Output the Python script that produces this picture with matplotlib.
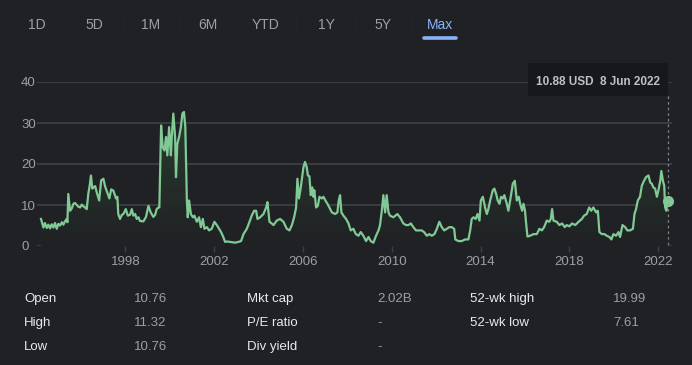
import numpy as np
import matplotlib.pyplot as plt
from matplotlib.colors import LinearSegmentedColormap

plt.rcParams['font.family'] = ['Liberation Sans', 'DejaVu Sans']

# price history (decimal year, USD)
years = [
    1994.20, 1994.31, 1994.38, 1994.46, 1994.53, 1994.61, 1994.68, 1994.76, 1994.83, 1994.91,
    1994.98, 1995.06, 1995.14, 1995.21, 1995.28, 1995.36, 1995.39, 1995.43, 1995.51, 1995.59,
    1995.66, 1995.73, 1995.81, 1995.88, 1995.96, 1996.04, 1996.11, 1996.18, 1996.26, 1996.33,
    1996.40, 1996.45, 1996.51, 1996.56, 1996.64, 1996.71, 1996.82, 1996.91, 1997.01, 1997.09,
    1997.19, 1997.28, 1997.36, 1997.46, 1997.58, 1997.64, 1997.68, 1997.76, 1997.84, 1997.91,
    1998.02, 1998.11, 1998.21, 1998.29, 1998.36, 1998.44, 1998.51, 1998.59, 1998.66, 1998.81,
    1998.93, 1999.04, 1999.14, 1999.26, 1999.34, 1999.41, 1999.49, 1999.53, 1999.61, 1999.68,
    1999.76, 1999.83, 1999.89, 1999.97, 2000.05, 2000.09, 2000.16, 2000.24, 2000.28, 2000.34,
    2000.42, 2000.50, 2000.57, 2000.64, 2000.70, 2000.77, 2000.81, 2000.87, 2000.95, 2001.04,
    2001.11, 2001.22, 2001.32, 2001.40, 2001.49, 2001.56, 2001.67, 2001.77, 2001.89, 2002.01,
    2002.12, 2002.22, 2002.31, 2002.41, 2002.49, 2002.59, 2002.72, 2002.84, 2002.94, 2003.09,
    2003.21, 2003.32, 2003.47, 2003.59, 2003.69, 2003.80, 2003.89, 2003.95, 2004.07, 2004.22,
    2004.34, 2004.40, 2004.49, 2004.59, 2004.67, 2004.82, 2004.97, 2005.12, 2005.27, 2005.39,
    2005.50, 2005.60, 2005.69, 2005.75, 2005.82, 2005.90, 2005.97, 2006.02, 2006.09, 2006.17,
    2006.22, 2006.29, 2006.35, 2006.42, 2006.47, 2006.51, 2006.59, 2006.67, 2006.74, 2006.85,
    2006.92, 2007.01, 2007.10, 2007.19, 2007.30, 2007.45, 2007.55, 2007.61, 2007.67, 2007.73,
    2007.82, 2007.94, 2008.05, 2008.15, 2008.27, 2008.38, 2008.50, 2008.60, 2008.72, 2008.84,
    2008.95, 2009.05, 2009.17, 2009.29, 2009.40, 2009.47, 2009.55, 2009.62, 2009.70, 2009.77,
    2009.85, 2009.92, 2010.07, 2010.25, 2010.37, 2010.52, 2010.64, 2010.75, 2010.86, 2010.97,
    2011.09, 2011.24, 2011.35, 2011.45, 2011.58, 2011.69, 2011.80, 2011.92, 2012.03, 2012.14,
    2012.25, 2012.36, 2012.48, 2012.59, 2012.70, 2012.81, 2012.86, 2013.00, 2013.15, 2013.30,
    2013.45, 2013.53, 2013.60, 2013.68, 2013.78, 2013.86, 2013.95, 2014.01, 2014.10, 2014.20,
    2014.28, 2014.35, 2014.43, 2014.55, 2014.62, 2014.70, 2014.77, 2014.85, 2014.92, 2015.00,
    2015.07, 2015.18, 2015.25, 2015.33, 2015.45, 2015.54, 2015.63, 2015.72, 2015.78, 2015.87,
    2015.93, 2016.00, 2016.05, 2016.11, 2016.23, 2016.38, 2016.53, 2016.65, 2016.76, 2016.86,
    2016.98, 2017.09, 2017.16, 2017.22, 2017.28, 2017.43, 2017.55, 2017.67, 2017.79, 2017.88,
    2018.00, 2018.12, 2018.26, 2018.41, 2018.56, 2018.66, 2018.78, 2018.89, 2018.98, 2019.08,
    2019.20, 2019.28, 2019.35, 2019.46, 2019.58, 2019.68, 2019.80, 2019.89, 2019.98, 2020.10,
    2020.21, 2020.28, 2020.39, 2020.51, 2020.61, 2020.73, 2020.86, 2020.93, 2021.00, 2021.08,
    2021.18, 2021.26, 2021.36, 2021.45, 2021.56, 2021.64, 2021.71, 2021.78, 2021.86, 2021.94,
    2022.01, 2022.09, 2022.14, 2022.21, 2022.27, 2022.31, 2022.37, 2022.41, 2022.44,
]
prices = [
    6.6, 4.5, 5.6, 4.4, 5.2, 4.3, 5.3, 4.5, 5.6, 4.2,
    5.4, 5.0, 5.8, 5.2, 6.0, 6.6, 5.8, 12.7, 8.6, 9.2,
    10.3, 10.5, 10.0, 9.6, 9.4, 10.1, 9.7, 9.4, 9.0, 12.7,
    15.0, 17.2, 14.0, 14.3, 14.6, 13.1, 11.1, 16.0, 16.4, 14.5,
    13.0, 11.6, 13.8, 13.5, 11.6, 12.0, 7.8, 6.6, 7.6, 7.8,
    9.0, 7.4, 7.6, 9.0, 7.4, 7.8, 6.6, 7.0, 6.1, 6.0,
    7.1, 9.8, 8.2, 7.1, 7.6, 9.0, 9.4, 9.4, 29.4, 24.1,
    23.3, 26.6, 22.1, 29.0, 22.1, 26.6, 32.3, 26.6, 16.8, 24.9,
    26.6, 29.0, 32.3, 32.7, 29.0, 11.1, 7.0, 11.1, 7.8, 7.0,
    7.4, 5.9, 7.0, 4.6, 6.6, 4.2, 4.6, 3.8, 4.2, 5.9,
    5.1, 4.2, 3.4, 2.2, 1.0, 1.1, 1.0, 0.9, 0.8, 1.0,
    1.2, 2.9, 4.2, 5.9, 7.4, 8.6, 8.6, 6.6, 7.0, 7.8,
    9.4, 10.7, 5.9, 5.5, 5.1, 6.2, 6.6, 5.9, 4.2, 3.8,
    5.1, 7.0, 9.4, 16.4, 11.6, 14.3, 17.2, 19.2, 20.5, 19.2,
    17.2, 17.0, 12.4, 14.3, 12.0, 13.6, 9.4, 9.8, 12.0, 11.6,
    12.0, 11.1, 10.3, 9.4, 8.2, 7.8, 8.2, 11.1, 12.4, 8.2,
    7.4, 6.6, 5.5, 3.8, 4.2, 2.9, 2.5, 3.4, 2.5, 1.2,
    2.2, 1.2, 0.8, 2.5, 3.8, 5.1, 8.6, 12.4, 8.2, 12.4,
    8.2, 7.4, 7.0, 7.8, 7.0, 5.5, 5.1, 5.1, 5.5, 4.6,
    3.8, 3.8, 3.8, 3.4, 2.5, 2.9, 2.5, 2.9, 4.2, 5.9,
    4.6, 3.8, 4.2, 4.6, 4.6, 4.2, 1.6, 1.2, 1.2, 1.6,
    1.6, 3.8, 6.6, 7.0, 6.6, 7.8, 6.2, 11.1, 12.0, 9.4,
    7.8, 9.0, 11.1, 13.6, 14.0, 12.7, 11.1, 10.3, 12.0, 11.6,
    12.4, 10.3, 8.6, 11.1, 15.2, 15.9, 11.1, 12.0, 10.3, 8.6,
    10.3, 8.6, 5.5, 2.3, 2.5, 2.9, 2.9, 4.2, 3.8, 4.6,
    6.2, 5.9, 6.6, 9.0, 6.2, 5.9, 5.1, 5.5, 4.6, 5.1,
    4.8, 5.5, 5.1, 5.9, 6.6, 7.4, 7.8, 9.4, 8.6, 9.4,
    8.2, 8.6, 3.4, 2.9, 2.9, 2.5, 2.2, 1.6, 2.9, 2.5,
    3.4, 2.2, 5.1, 4.6, 3.8, 3.8, 4.2, 7.8, 9.0, 11.1,
    12.0, 14.7, 15.9, 16.8, 17.2, 15.5, 15.2, 14.3, 14.0, 12.0,
    13.6, 15.9, 18.3, 15.9, 14.7, 9.4, 8.6, 11.1, 10.88,
]

tabs = ["1D", "5D", "1M", "6M", "YTD", "1Y", "5Y", "Max"]
yticks = [0, 10, 20, 30, 40]
xticks = [1998, 2002, 2006, 2010, 2014, 2018, 2022]

stats = [
    ["Open", "10.76", "Mkt cap", "2.02B", "52-wk high", "19.99"],
    ["High", "11.32", "P/E ratio", "-", "52-wk low", "7.61"],
    ["Low", "10.76", "Div yield", "-", "", ""],
]
tooltip = "10.88 USD  8 Jun 2022"

BG = "#202124"
GRID = "#3c4043"
GREEN = "#81c995"
GREY = "#9aa0a6"
LIGHT = "#bdc1c6"
W, H = 692, 365

fig = plt.figure(figsize=(W / 100, H / 100), dpi=100, facecolor=BG)


def fx(px):
    return px / W


def fy(py):
    return 1 - py / H


# chart area: left 37, right 672, top (40) 82, bottom (0) 246
ax = fig.add_axes([fx(37), fy(246), fx(672 - 37), (246 - 82) / H])
ax.set_facecolor(BG)
for s in ax.spines.values():
    s.set_visible(False)

ax.set_yticks(yticks)
ax.grid(axis="y", color=GRID, lw=1.3)
ax.set_axisbelow(True)
ax.tick_params(axis="y", length=0, pad=11.5, labelcolor=GREY, labelsize=9.5)
for lab in ax.get_yticklabels():
    lab.set_horizontalalignment("left")

ax.set_xticks(xticks)
ax.set_xticklabels([str(t) for t in xticks])
ax.tick_params(axis="x", length=4, width=1, color=GRID, pad=3,
               labelcolor=GREY, labelsize=9.5)

# gradient fill under line
x = np.array(years)
y = np.array(prices)
poly = ax.fill_between(x, y, 0, color="none", lw=0)
cmap = LinearSegmentedColormap.from_list("g", [BG, "#2a3d30"])
grad = np.linspace(0, 1, 256).reshape(-1, 1)
im = ax.imshow(grad, extent=[x[0], x[-1], 0, 34], origin="lower",
               aspect="auto", cmap=cmap, zorder=1)
im.set_clip_path(poly.get_paths()[0], transform=ax.transData)

ax.plot(x, y, color=GREEN, lw=1.6, zorder=3)
ax.plot([x[-1]], [y[-1]], "o", color=GREEN, ms=7, zorder=4, clip_on=False)
ax.set_ylim(0, 40)
ax.set_xlim(1994.02, 2022.62)

# dotted hover line
fig.add_artist(plt.Line2D([fx(668.3), fx(668.3)], [fy(96), fy(246)],
                          color=GREY, lw=0.9, ls=(0, (2, 2.5)), alpha=0.8))

# tooltip box
fig.add_artist(plt.Rectangle((fx(528), fy(96)), fx(140), (96 - 63) / H,
                             facecolor="#17181b", edgecolor="none", zorder=5))
fig.text(fx(598.5), fy(82), tooltip, color=LIGHT, fontsize=8.5, fontweight="bold",
         ha="center", va="center", zorder=6)

# range tabs
tab_x = [37, 94, 151, 208, 266, 326, 383, 440]
for i, (t, px) in enumerate(zip(tabs, tab_x)):
    col = "#8ab4f8" if t == "Max" else GREY
    fig.text(fx(px), fy(25), t, color=col, fontsize=10, ha="center", va="center")
    if i < len(tabs) - 1:
        sx = (px + tab_x[i + 1]) / 2
        fig.add_artist(plt.Line2D([fx(sx), fx(sx)], [fy(14), fy(34)],
                                  color="#232427", lw=1))
fig.add_artist(plt.Line2D([fx(424), fx(456)], [fy(38), fy(38)],
                          color="#8ab4f8", lw=2.6, solid_capstyle="round"))

# key stats
col_x = [24, 134, 247, 377, 470, 613]
row_y = [299, 323, 347]
for r, row in enumerate(stats):
    for c, txt in enumerate(row):
        col = "#e8eaed" if c % 2 == 0 else GREY
        fig.text(fx(col_x[c]), fy(row_y[r]), txt, color=col, fontsize=9.5,
                 ha="left", va="center")

fig.savefig("out.png", dpi=100, facecolor=BG)
